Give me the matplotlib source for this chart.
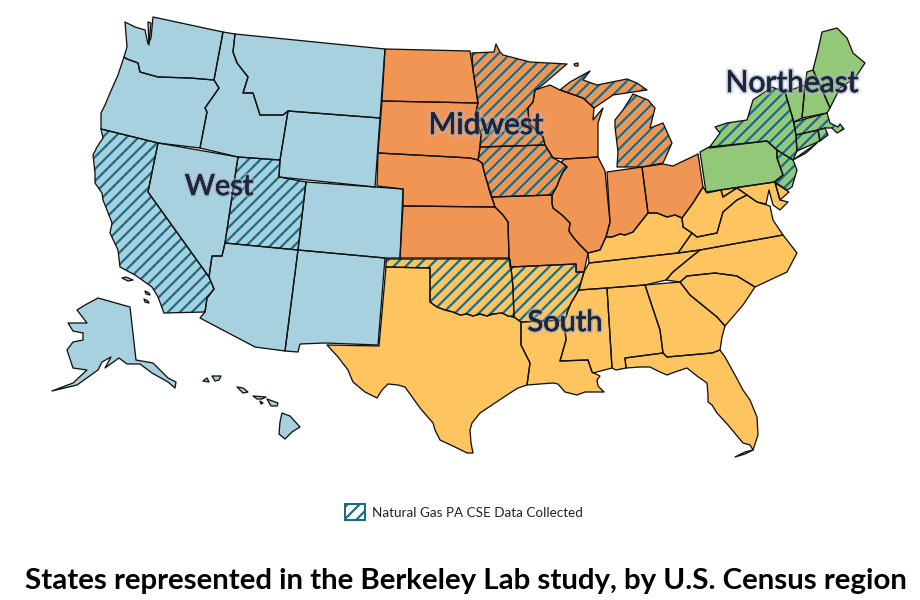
import matplotlib.pyplot as plt
import matplotlib.patheffects as pe
from matplotlib.patches import Polygon, Patch

# shared river borders (x, y in image pixels)
IL_MO = [(552,195),(552,203),(553,208),(562,215),(570,223),(569,231),(573,237),(580,245),(588,253)]
IL_KY = [(588,253),(600,250),(606,237)]
IN_KY = [(606,237),(612,237),(620,234),(625,235),(633,232),(640,223),(648,213)]
OH_KY = [(648,213),(657,213),(667,217),(675,215),(682,218)]
IA_IL = [(553,158),(561,162),(567,167),(563,172),(560,178),(557,186),(552,195)]
RED_RIVER = [(430,302),(437,307),(445,310),(453,312),(460,315),(467,314),(473,316),(480,314),(487,316),(493,314),(502,313),(508,316),(514,317)]
AR_MS = [(584,272),(580,285),(577,293),(571,303),(568,310),(566,317),(564,320)]

WA = [(153,17),(223,32),(214,80),(190,78),(158,77),(140,72),(138,63),(127,59),(124,57),(127,47),(125,22),(135,27),(145,30),(148,44),(151,38),(152,28)]
OR = [(124,57),(127,59),(138,63),(140,72),(158,77),(190,78),(214,80),(219,88),(205,108),(207,112),(200,148),(158,143),(101,129),(101,113),(105,105),(110,93),(118,75)]
CA = [(101,129),(158,143),(148,192),(209,277),(214,289),(207,298),(205,312),(164,313),(158,297),(152,287),(135,275),(120,267),(118,250),(110,233),(112,223),(107,210),(103,200),(102,193),(95,183),(95,173),(93,155),(97,147),(103,138)]
NV = [(158,143),(238,157),(225,243),(222,256),(212,256),(209,277),(148,192)]
ID = [(223,32),(235,34),(233,52),(237,63),(248,77),(243,93),(253,93),(260,115),(283,115),(288,111),(280,160),(238,157),(200,148),(207,112),(205,108),(219,88),(214,80)]
MT = [(235,34),(385,49),(380,118),(288,111),(283,115),(260,115),(253,93),(243,93),(248,77),(237,63),(233,52)]
WY = [(288,111),(380,118),(375,187),(279,177),(280,160)]
UT = [(238,157),(280,160),(279,177),(306,182),(298,250),(225,243)]
CO = [(306,182),(403,189),(400,258),(385,258),(298,250)]
AZ = [(225,243),(298,250),(285,351),(255,347),(200,318),(205,312),(207,298),(214,289),(209,277),(212,256),(222,256)]
NM = [(298,250),(385,258),(378,345),(325,343),(300,344),(298,352),(285,351)]
AK = [(98,298),(130,307),(136,360),(153,363),(168,378),(176,382),(175,388),(168,382),(152,373),(140,364),(127,364),(119,358),(105,368),(111,357),(102,362),(98,370),(77,385),(52,391),(73,383),(87,370),(73,368),(67,350),(73,342),(83,340),(83,333),(73,331),(68,323),(87,323),(77,310),(85,305)]
PUGET = [(148,22),(151,23),(149,45)]
SANTA_BARBARA = [(122,278),(126,277),(133,280),(128,281)]
CATALINA = [(145,291),(149,293),(150,295),(146,294)]
CLEMENTE = [(144,299),(148,301),(149,303),(145,302)]
HI_BIG = [(282,413),(290,416),(300,427),(292,432),(285,439),(279,434),(280,422)]
HI_MAUI = [(267,399),(278,403),(277,406),(271,406)]
HI_MOLOKAI = [(253,396),(266,397),(262,399),(257,399)]
HI_OAHU = [(237,387),(243,388),(248,392),(243,393)]
HI_KAUAI = [(212,376),(221,376),(219,380),(215,381)]
HI_NIIHAU = [(203,381),(207,378),(209,382)]
HI_LANAI = [(260,401),(263,403),(261,404)]

ND = [(385,49),(470,51),(473,70),(478,103),(382,101)]
SD = [(382,101),(478,103),(475,115),(481,135),(480,147),(478,160),(470,158),(453,157),(378,153)]
NE = [(378,153),(453,157),(470,158),(478,160),(482,163),(485,175),(490,193),(495,207),(403,206),(403,189),(377,186)]
KS = [(403,206),(495,207),(503,215),(508,222),(509,258),(400,258)]
MN = [(472,53),(494,52),(496,44),(500,52),(503,55),(530,62),(567,64),(540,87),(535,90),(533,102),(528,108),(529,123),(543,137),(545,145),(480,147),(481,135),(475,115),(478,103),(473,70)]
ISLE_ROYALE = [(574,64),(578,63),(578,66),(575,66)]
IA = [(480,147),(545,145),(553,158)] + IA_IL[1:] + [(492,197),(485,175),(482,163),(478,160)]
MO = [(492,197)] + IL_MO + [(584,272),(576,272),(576,264),(510,267),(509,258),(508,222),(503,215),(495,207)]
WI = [(535,90),(550,85),(560,90),(583,98),(594,108),(593,120),(603,108),(598,123),(598,157),(565,159),(553,158),(545,145),(543,137),(529,123),(528,108),(533,102)]
IL = [(565,159),(598,157),(605,171),(610,222),(606,237)] + IL_KY[::-1][1:] + IL_MO[::-1][1:] + IA_IL[::-1][1:-1]
IN = [(607,172),(642,167),(648,213)] + IN_KY[::-1][1:] + [(610,222)]
OH = [(642,167),(663,164),(673,166),(698,154),(703,187),(693,203)] + OH_KY[::-1]
MI_UP = [(560,90),(570,82),(590,71),(583,80),(597,85),(627,79),(637,83),(647,90),(633,92),(613,95),(594,108),(583,98)]
MI_LOW = [(617,167),(618,152),(615,127),(615,120),(623,110),(633,94),(648,100),(655,108),(650,128),(663,123),(672,143),(668,152),(663,163),(642,167)]

TX = [(386,267),(430,268)] + RED_RIVER + [(521,322),(521,345),(530,363),(527,385),(518,388),(510,393),(495,403),(480,413),(472,423),(470,430),(471,443),(473,453),(467,453),(455,447),(440,440),(435,430),(433,423),(420,408),(405,387),(398,385),(388,384),(382,390),(377,398),(365,392),(353,382),(350,375),(348,370),(338,357),(327,345),(379,346)]
OK = [(386,259),(510,259),(513,287),(514,317)] + RED_RIVER[::-1][1:] + [(430,268),(386,267)]
AR = [(511,267),(576,264),(576,272)] + AR_MS + [(521,322),(514,317),(513,287)]
LA = [(521,322),(564,320),(566,340),(560,361),(588,360),(592,372),(600,376),(597,380),(598,386),(604,392),(592,392),(585,392),(577,395),(565,392),(558,384),(553,383),(540,384),(527,385),(530,363),(521,345)]
MS = [(579,290),(607,288),(612,368),(593,373),(592,372),(588,360),(560,361),(566,340),(564,320),(566,317),(568,310),(571,303),(577,293)]
AL = [(607,288),(645,285),(660,330),(663,353),(625,358),(626,368),(616,370),(612,368)]
GA = [(645,285),(680,282),(690,295),(717,317),(725,326),(722,337),(720,350),(712,353),(667,357),(663,353),(660,330)]
FL = [(625,358),(663,353),(667,357),(712,353),(720,350),(725,357),(735,375),(743,390),(750,400),(757,417),(758,435),(753,450),(750,445),(743,443),(728,425),(717,413),(712,405),(708,402),(708,395),(707,383),(697,376),(687,368),(675,372),(667,375),(660,372),(650,367),(640,367),(626,368)]
FL_KEYS = [(735,457),(745,452),(753,450),(745,454)]
SC = [(680,282),(687,276),(715,273),(737,276),(755,287),(743,305),(725,326),(717,317),(690,295)]
NC = [(666,280),(673,272),(690,258),(700,250),(783,235),(797,253),(787,272),(755,287),(737,276),(715,273),(687,276),(680,282)]
TN = [(579,290),(584,272),(589,263),(678,253),(700,250),(690,258),(673,272),(666,280),(645,285),(607,288)]
KY = [(589,263)] + IL_KY + IN_KY[1:] + OH_KY[1:] + [(683,227),(692,233),(678,253)]
VA = [(678,253),(692,233),(697,237),(717,233),(723,212),(737,200),(747,195),(757,202),(770,206),(773,220),(783,235),(700,250)]
WV = [(682,218),(693,203),(703,187),(707,193),(721,190),(723,197),(737,188),(747,195),(737,200),(723,212),(717,233),(697,237),(692,233),(683,227)]
MD = [(721,190),(775,182),(780,200),(788,202),(780,210),(773,205),(769,190),(766,204),(757,202),(747,195),(737,188),(723,197)]

PA = [(700,152),(709,147),(767,141),(777,150),(777,158),(783,175),(774,182),(706,192)]
DE = [(775,183),(780,200),(789,192),(783,188)]
NY = [(709,148),(720,133),(715,127),(727,123),(747,120),(753,100),(772,87),(785,92),(793,120),(796,135),(797,151),(793,160),(777,150),(767,141)]
LI = [(793,160),(817,143),(806,153)]
NJ = [(777,150),(793,160),(797,170),(792,187),(787,190),(775,182),(783,175),(777,158)]
CT = [(796,135),(818,130),(820,141),(797,151)]
RI = [(818,130),(825,128),(828,135),(820,141)]
MA = [(794,122),(827,113),(830,123),(838,127),(840,124),(844,129),(837,133),(832,128),(825,128),(818,130),(796,135)]
VT = [(785,92),(805,85),(802,118),(794,122)]
NH = [(805,85),(807,72),(813,70),(820,85),(830,108),(827,113),(802,118)]
ME = [(813,70),(818,50),(822,32),(837,28),(847,38),(853,53),(865,63),(855,78),(840,88),(830,108),(820,85)]

west = [WA, PUGET, OR, CA, NV, ID, MT, WY, UT, CO, AZ, NM, AK, SANTA_BARBARA, CATALINA, CLEMENTE,
        HI_BIG, HI_MAUI, HI_MOLOKAI, HI_OAHU, HI_KAUAI, HI_NIIHAU, HI_LANAI]
midwest = [ND, SD, NE, KS, MN, ISLE_ROYALE, IA, MO, WI, IL, IN, OH, MI_UP, MI_LOW]
south = [TX, OK, AR, LA, MS, AL, GA, FL, FL_KEYS, SC, NC, TN, KY, VA, WV, MD, DE]
northeast = [PA, NY, LI, NJ, CT, RI, MA, VT, NH, ME]
regions = [west, midwest, south, northeast]
colors = ['#A8D1DF', '#F19555', '#FDC45F', '#93C878']

# states with data collected get the stripes
hatched = [CA, UT, MN, IA, MI_UP, MI_LOW, OK, AR, NY, LI, NJ, CT, RI, MA]

label_names = ['West', 'Midwest', 'South', 'Northeast']
label_x = [219, 486, 565, 792]
label_y = [187, 125, 323, 83]

title = 'States represented in the Berkeley Lab study, by U.S. Census region'
legend_text = 'Natural Gas PA CSE Data Collected'

teal = '#1C6B80'
plt.rcParams['hatch.linewidth'] = 2.2

fig = plt.figure(figsize=(920 / 72, 600 / 72), dpi=72)
ax = fig.add_axes([0, 0, 1, 1])
ax.set_xlim(0, 920)
ax.set_ylim(600, 0)
ax.axis('off')

for r in range(len(regions)):
    for state in regions[r]:
        if any(state is h for h in hatched):
            ax.add_patch(Polygon(state, facecolor=colors[r], edgecolor=teal, hatch='//', lw=0, zorder=1))
        else:
            ax.add_patch(Polygon(state, facecolor=colors[r], edgecolor='none', zorder=1))
        ax.add_patch(Polygon(state, fill=False, edgecolor='#111111', lw=1.3, joinstyle='round', zorder=2))

glow = [pe.withStroke(linewidth=6, foreground='#C4C7CF', alpha=0.3),
        pe.withStroke(linewidth=3, foreground='#80859A', alpha=0.45),
        pe.withStroke(linewidth=0.3, foreground='#1B2740')]
label_sizes = [29, 30, 29, 30]
for i in range(len(label_names)):
    ax.text(label_x[i], label_y[i], label_names[i], fontsize=label_sizes[i], family='Lato', color='#1B2740',
            ha='center', va='center', path_effects=glow, zorder=5)

ax.legend(handles=[Patch(facecolor='white', edgecolor=teal, hatch='//', lw=2, label=legend_text)],
          loc='center left', bbox_to_anchor=(345 / 920, 1 - 512 / 600), frameon=False,
          prop={'family': 'Lato', 'size': 13.5}, handlelength=1.45, handleheight=1.35,
          handletextpad=0.55, borderpad=0, borderaxespad=0, labelcolor='#222222')

ax.text(466, 581, title, fontsize=29.45, family='Lato', fontweight='bold', color='black', ha='center', va='center')

fig.savefig('out.png', dpi=72)
